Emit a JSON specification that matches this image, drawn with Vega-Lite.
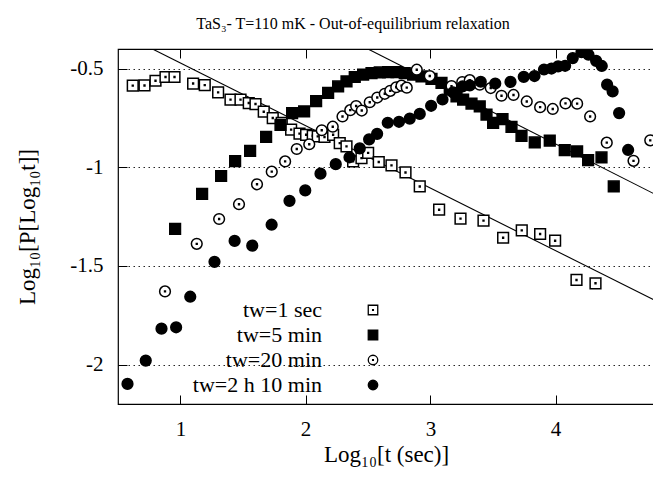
{
  "$schema": "https://vega.github.io/schema/vega-lite/v6.json",
  "width": 536,
  "height": 355,
  "autosize": {"type": "none"},
  "padding": {"left": 118, "top": 49, "right": 0, "bottom": 73},
  "background": "white",
  "config": {
    "font": "Liberation Serif",
    "view": {"stroke": "black", "strokeWidth": 1.2},
    "axis": {
      "labelFont": "Liberation Serif",
      "labelFontSize": 21,
      "labelColor": "black",
      "titleFont": "Liberation Serif",
      "titleFontSize": 23,
      "titleFontWeight": "normal",
      "titleColor": "black",
      "domain": false,
      "tickColor": "black",
      "tickSize": -9,
      "gridColor": "black",
      "gridDash": [1.5, 3.5],
      "gridWidth": 1,
      "gridOpacity": 0.85
    }
  },
  "title": {
    "text": "TaS₃- T=110 mK - Out-of-equilibrium relaxation",
    "font": "Liberation Serif",
    "fontSize": 16,
    "fontWeight": "normal",
    "anchor": "middle",
    "frame": "group",
    "dx": -33,
    "offset": 17
  },
  "datasets": {
    "fits": [
      {"fit": "a", "x": 0.776, "y": -0.4},
      {"fit": "a", "x": 4.788, "y": -1.672},
      {"fit": "b", "x": 2.5, "y": -0.4},
      {"fit": "b", "x": 4.788, "y": -1.134}
    ],
    "pts": [
      {"s": "tw=1 sec", "x": 0.618, "y": -0.586},
      {"s": "tw=1 sec", "x": 0.712, "y": -0.585},
      {"s": "tw=1 sec", "x": 0.800, "y": -0.561},
      {"s": "tw=1 sec", "x": 0.880, "y": -0.542},
      {"s": "tw=1 sec", "x": 0.952, "y": -0.542},
      {"s": "tw=1 sec", "x": 1.101, "y": -0.575},
      {"s": "tw=1 sec", "x": 1.194, "y": -0.583},
      {"s": "tw=1 sec", "x": 1.301, "y": -0.620},
      {"s": "tw=1 sec", "x": 1.400, "y": -0.657},
      {"s": "tw=1 sec", "x": 1.480, "y": -0.657},
      {"s": "tw=1 sec", "x": 1.546, "y": -0.674},
      {"s": "tw=1 sec", "x": 1.600, "y": -0.679},
      {"s": "tw=1 sec", "x": 1.666, "y": -0.718},
      {"s": "tw=1 sec", "x": 1.738, "y": -0.750},
      {"s": "tw=1 sec", "x": 1.810, "y": -0.775},
      {"s": "tw=1 sec", "x": 1.885, "y": -0.809},
      {"s": "tw=1 sec", "x": 1.952, "y": -0.829},
      {"s": "tw=1 sec", "x": 2.005, "y": -0.835},
      {"s": "tw=1 sec", "x": 2.058, "y": -0.840},
      {"s": "tw=1 sec", "x": 2.098, "y": -0.843},
      {"s": "tw=1 sec", "x": 2.152, "y": -0.846},
      {"s": "tw=1 sec", "x": 2.221, "y": -0.835},
      {"s": "tw=1 sec", "x": 2.274, "y": -0.877},
      {"s": "tw=1 sec", "x": 2.328, "y": -0.894},
      {"s": "tw=1 sec", "x": 2.381, "y": -0.970},
      {"s": "tw=1 sec", "x": 2.448, "y": -0.953},
      {"s": "tw=1 sec", "x": 2.501, "y": -0.927},
      {"s": "tw=1 sec", "x": 2.586, "y": -0.973},
      {"s": "tw=1 sec", "x": 2.688, "y": -0.990},
      {"s": "tw=1 sec", "x": 2.800, "y": -1.026},
      {"s": "tw=1 sec", "x": 2.914, "y": -1.097},
      {"s": "tw=1 sec", "x": 3.069, "y": -1.215},
      {"s": "tw=1 sec", "x": 3.240, "y": -1.260},
      {"s": "tw=1 sec", "x": 3.424, "y": -1.270},
      {"s": "tw=1 sec", "x": 3.581, "y": -1.357},
      {"s": "tw=1 sec", "x": 3.730, "y": -1.320},
      {"s": "tw=1 sec", "x": 3.877, "y": -1.338},
      {"s": "tw=1 sec", "x": 3.997, "y": -1.372},
      {"s": "tw=1 sec", "x": 4.168, "y": -1.571},
      {"s": "tw=1 sec", "x": 4.320, "y": -1.588},

      {"s": "tw=5 min", "x": 0.957, "y": -1.312},
      {"s": "tw=5 min", "x": 1.173, "y": -1.135},
      {"s": "tw=5 min", "x": 1.325, "y": -1.044},
      {"s": "tw=5 min", "x": 1.437, "y": -0.968},
      {"s": "tw=5 min", "x": 1.557, "y": -0.916},
      {"s": "tw=5 min", "x": 1.685, "y": -0.846},
      {"s": "tw=5 min", "x": 1.800, "y": -0.785},
      {"s": "tw=5 min", "x": 1.893, "y": -0.725},
      {"s": "tw=5 min", "x": 1.989, "y": -0.716},
      {"s": "tw=5 min", "x": 2.085, "y": -0.664},
      {"s": "tw=5 min", "x": 2.181, "y": -0.623},
      {"s": "tw=5 min", "x": 2.261, "y": -0.590},
      {"s": "tw=5 min", "x": 2.328, "y": -0.564},
      {"s": "tw=5 min", "x": 2.394, "y": -0.542},
      {"s": "tw=5 min", "x": 2.461, "y": -0.530},
      {"s": "tw=5 min", "x": 2.528, "y": -0.522},
      {"s": "tw=5 min", "x": 2.594, "y": -0.519},
      {"s": "tw=5 min", "x": 2.661, "y": -0.517},
      {"s": "tw=5 min", "x": 2.728, "y": -0.517},
      {"s": "tw=5 min", "x": 2.794, "y": -0.522},
      {"s": "tw=5 min", "x": 2.861, "y": -0.530},
      {"s": "tw=5 min", "x": 2.928, "y": -0.539},
      {"s": "tw=5 min", "x": 3.008, "y": -0.552},
      {"s": "tw=5 min", "x": 3.088, "y": -0.572},
      {"s": "tw=5 min", "x": 3.154, "y": -0.606},
      {"s": "tw=5 min", "x": 3.208, "y": -0.640},
      {"s": "tw=5 min", "x": 3.261, "y": -0.657},
      {"s": "tw=5 min", "x": 3.328, "y": -0.677},
      {"s": "tw=5 min", "x": 3.394, "y": -0.691},
      {"s": "tw=5 min", "x": 3.448, "y": -0.733},
      {"s": "tw=5 min", "x": 3.501, "y": -0.775},
      {"s": "tw=5 min", "x": 3.576, "y": -0.755},
      {"s": "tw=5 min", "x": 3.648, "y": -0.795},
      {"s": "tw=5 min", "x": 3.728, "y": -0.840},
      {"s": "tw=5 min", "x": 3.834, "y": -0.874},
      {"s": "tw=5 min", "x": 3.954, "y": -0.865},
      {"s": "tw=5 min", "x": 4.074, "y": -0.913},
      {"s": "tw=5 min", "x": 4.173, "y": -0.919},
      {"s": "tw=5 min", "x": 4.261, "y": -0.963},
      {"s": "tw=5 min", "x": 4.368, "y": -0.950},
      {"s": "tw=5 min", "x": 4.466, "y": -1.097},

      {"s": "tw=20 min", "x": 0.876, "y": -1.629},
      {"s": "tw=20 min", "x": 1.130, "y": -1.388},
      {"s": "tw=20 min", "x": 1.309, "y": -1.262},
      {"s": "tw=20 min", "x": 1.468, "y": -1.187},
      {"s": "tw=20 min", "x": 1.612, "y": -1.086},
      {"s": "tw=20 min", "x": 1.730, "y": -1.022},
      {"s": "tw=20 min", "x": 1.837, "y": -0.970},
      {"s": "tw=20 min", "x": 1.930, "y": -0.907},
      {"s": "tw=20 min", "x": 2.030, "y": -0.883},
      {"s": "tw=20 min", "x": 2.130, "y": -0.812},
      {"s": "tw=20 min", "x": 2.218, "y": -0.794},
      {"s": "tw=20 min", "x": 2.296, "y": -0.742},
      {"s": "tw=20 min", "x": 2.358, "y": -0.710},
      {"s": "tw=20 min", "x": 2.405, "y": -0.689},
      {"s": "tw=20 min", "x": 2.450, "y": -0.712},
      {"s": "tw=20 min", "x": 2.514, "y": -0.670},
      {"s": "tw=20 min", "x": 2.574, "y": -0.646},
      {"s": "tw=20 min", "x": 2.634, "y": -0.627},
      {"s": "tw=20 min", "x": 2.678, "y": -0.612},
      {"s": "tw=20 min", "x": 2.726, "y": -0.594},
      {"s": "tw=20 min", "x": 2.768, "y": -0.586},
      {"s": "tw=20 min", "x": 2.810, "y": -0.596},
      {"s": "tw=20 min", "x": 2.890, "y": -0.505},
      {"s": "tw=20 min", "x": 2.994, "y": -0.537},
      {"s": "tw=20 min", "x": 3.168, "y": -0.588},
      {"s": "tw=20 min", "x": 3.254, "y": -0.568},
      {"s": "tw=20 min", "x": 3.314, "y": -0.558},
      {"s": "tw=20 min", "x": 3.394, "y": -0.581},
      {"s": "tw=20 min", "x": 3.482, "y": -0.598},
      {"s": "tw=20 min", "x": 3.568, "y": -0.637},
      {"s": "tw=20 min", "x": 3.664, "y": -0.633},
      {"s": "tw=20 min", "x": 3.770, "y": -0.666},
      {"s": "tw=20 min", "x": 3.877, "y": -0.695},
      {"s": "tw=20 min", "x": 3.978, "y": -0.704},
      {"s": "tw=20 min", "x": 4.080, "y": -0.676},
      {"s": "tw=20 min", "x": 4.173, "y": -0.677},
      {"s": "tw=20 min", "x": 4.277, "y": -0.742},
      {"s": "tw=20 min", "x": 4.410, "y": -0.875},
      {"s": "tw=20 min", "x": 4.624, "y": -0.967},
      {"s": "tw=20 min", "x": 4.758, "y": -0.863},

      {"s": "tw=2 h 10 min", "x": 0.576, "y": -2.098},
      {"s": "tw=2 h 10 min", "x": 0.722, "y": -1.980},
      {"s": "tw=2 h 10 min", "x": 0.848, "y": -1.818},
      {"s": "tw=2 h 10 min", "x": 0.965, "y": -1.811},
      {"s": "tw=2 h 10 min", "x": 1.078, "y": -1.656},
      {"s": "tw=2 h 10 min", "x": 1.272, "y": -1.479},
      {"s": "tw=2 h 10 min", "x": 1.433, "y": -1.373},
      {"s": "tw=2 h 10 min", "x": 1.574, "y": -1.397},
      {"s": "tw=2 h 10 min", "x": 1.729, "y": -1.291},
      {"s": "tw=2 h 10 min", "x": 1.872, "y": -1.170},
      {"s": "tw=2 h 10 min", "x": 1.998, "y": -1.117},
      {"s": "tw=2 h 10 min", "x": 2.120, "y": -1.032},
      {"s": "tw=2 h 10 min", "x": 2.242, "y": -0.984},
      {"s": "tw=2 h 10 min", "x": 2.352, "y": -0.949},
      {"s": "tw=2 h 10 min", "x": 2.434, "y": -0.904},
      {"s": "tw=2 h 10 min", "x": 2.509, "y": -0.858},
      {"s": "tw=2 h 10 min", "x": 2.573, "y": -0.830},
      {"s": "tw=2 h 10 min", "x": 2.658, "y": -0.774},
      {"s": "tw=2 h 10 min", "x": 2.748, "y": -0.769},
      {"s": "tw=2 h 10 min", "x": 2.834, "y": -0.753},
      {"s": "tw=2 h 10 min", "x": 2.914, "y": -0.729},
      {"s": "tw=2 h 10 min", "x": 3.005, "y": -0.688},
      {"s": "tw=2 h 10 min", "x": 3.096, "y": -0.656},
      {"s": "tw=2 h 10 min", "x": 3.181, "y": -0.620},
      {"s": "tw=2 h 10 min", "x": 3.256, "y": -0.590},
      {"s": "tw=2 h 10 min", "x": 3.314, "y": -0.585},
      {"s": "tw=2 h 10 min", "x": 3.402, "y": -0.566},
      {"s": "tw=2 h 10 min", "x": 3.518, "y": -0.575},
      {"s": "tw=2 h 10 min", "x": 3.640, "y": -0.567},
      {"s": "tw=2 h 10 min", "x": 3.746, "y": -0.541},
      {"s": "tw=2 h 10 min", "x": 3.832, "y": -0.537},
      {"s": "tw=2 h 10 min", "x": 3.908, "y": -0.504},
      {"s": "tw=2 h 10 min", "x": 3.968, "y": -0.499},
      {"s": "tw=2 h 10 min", "x": 4.021, "y": -0.488},
      {"s": "tw=2 h 10 min", "x": 4.077, "y": -0.485},
      {"s": "tw=2 h 10 min", "x": 4.138, "y": -0.446},
      {"s": "tw=2 h 10 min", "x": 4.208, "y": -0.416},
      {"s": "tw=2 h 10 min", "x": 4.264, "y": -0.429},
      {"s": "tw=2 h 10 min", "x": 4.325, "y": -0.460},
      {"s": "tw=2 h 10 min", "x": 4.370, "y": -0.486},
      {"s": "tw=2 h 10 min", "x": 4.413, "y": -0.581},
      {"s": "tw=2 h 10 min", "x": 4.457, "y": -0.615},
      {"s": "tw=2 h 10 min", "x": 4.509, "y": -0.725},
      {"s": "tw=2 h 10 min", "x": 4.581, "y": -0.912}
    ]
  },
  "resolve": {"axis": {"x": "independent"}},
  "layer": [
    {
      "data": {"name": "fits"},
      "mark": {"type": "line", "color": "black", "strokeWidth": 1.1, "clip": true},
      "encoding": {
        "x": {"field": "x", "type": "quantitative",
              "scale": {"domain": [0.5, 4.788], "nice": false, "zero": false},
              "axis": {"orient": "top", "labels": false, "grid": false, "values": [1, 2, 3, 4], "title": null}},
        "y": {"field": "y", "type": "quantitative",
              "scale": {"domain": [-2.2, -0.4], "nice": false, "zero": false},
              "axis": {"values": [-2, -1.5, -1, -0.5], "format": "~g",
                       "labelExpr": "replace(datum.label, '−', '-')", "labelPadding": 24,
                       "title": "Log₁₀[P[Log₁₀t]]", "titlePadding": 30}},
        "detail": {"field": "fit"}
      }
    },
    {
      "data": {"name": "pts"},
      "mark": {"type": "point", "stroke": "black", "strokeWidth": 1.5, "opacity": 1, "size": 115, "clip": true},
      "encoding": {
        "x": {"field": "x", "type": "quantitative",
              "axis": {"orient": "bottom", "values": [1, 2, 3, 4], "labelPadding": 23,
                       "title": "Log₁₀[t (sec)]", "titlePadding": 4}},
        "y": {"field": "y", "type": "quantitative"},
        "shape": {"field": "s", "type": "nominal",
                  "scale": {"domain": ["tw=1 sec", "tw=5 min", "tw=20 min", "tw=2 h 10 min"],
                            "range": ["M-1,-1H1V1H-1Z M-0.08,-0.08H0.08V0.08H-0.08Z", "square", "M1,0A1,1,0,1,1,-1,0A1,1,0,1,1,1,0Z M-0.08,-0.08H0.08V0.08H-0.08Z", "circle"]},
                  "legend": {"orient": "none", "legendX": 244, "legendY": 250, "title": null,
                             "labelFont": "Liberation Serif", "labelFontSize": 22, "labelColor": "black",
                             "labelAlign": "right", "labelOffset": -62, "rowPadding": 3,
                             "symbolSize": 90, "symbolStrokeWidth": 1.3,
                             "encode": {"symbols": {"update": {"stroke": {"value": "black"}, "strokeWidth": {"value": 1.3}}}}}},
        "fill": {"field": "s", "type": "nominal",
                 "scale": {"domain": ["tw=1 sec", "tw=5 min", "tw=20 min", "tw=2 h 10 min"],
                           "range": ["white", "black", "white", "black"]}}
      }
    }
  ]
}
